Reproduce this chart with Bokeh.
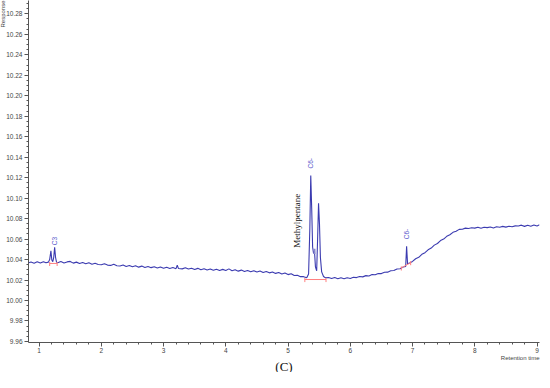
import math
from bokeh.plotting import figure
from bokeh.models import Range1d, SingleIntervalTicker, PrintfTickFormatter, Label, ColumnDataSource, Title
from bokeh.core.properties import value
from bokeh.embed import file_html
from bokeh.resources import INLINE

# Chromatogram trace (retention time, response)
rt = [0.82, 0.87, 0.92, 0.97, 1.02, 1.07, 1.11, 1.15, 1.17, 1.19, 1.205, 1.22, 1.235, 1.25, 1.265, 1.28,
      1.30, 1.35, 1.40, 1.45, 1.50, 1.55, 1.60, 1.65, 1.70, 1.75, 1.80, 1.85, 1.90, 1.95,
      2.00, 2.05, 2.10, 2.15, 2.20, 2.25, 2.30, 2.35, 2.40, 2.45, 2.50, 2.55, 2.60, 2.65, 2.70, 2.75,
      2.80, 2.85, 2.90, 2.95, 3.00, 3.05, 3.10, 3.15, 3.20, 3.22, 3.24, 3.30, 3.35, 3.40, 3.45, 3.50,
      3.55, 3.60, 3.65, 3.70, 3.75, 3.80, 3.85, 3.90, 3.95, 4.00, 4.05, 4.10, 4.15, 4.20, 4.25, 4.30,
      4.35, 4.40, 4.45, 4.50, 4.55, 4.60, 4.65, 4.70, 4.75, 4.80, 4.85, 4.90, 4.95, 5.00, 5.05, 5.10,
      5.15, 5.20, 5.25, 5.30, 5.33, 5.35, 5.365, 5.38, 5.395, 5.41, 5.425, 5.44, 5.46, 5.475, 5.49,
      5.505, 5.52, 5.54, 5.57, 5.60, 5.65, 5.70, 5.75, 5.80, 5.85, 5.90, 5.95, 6.00, 6.05, 6.10, 6.15,
      6.20, 6.25, 6.30, 6.35, 6.40, 6.45, 6.50, 6.55, 6.60, 6.65, 6.70, 6.75, 6.80, 6.85, 6.89, 6.905,
      6.92, 6.95, 7.00, 7.05, 7.10, 7.15, 7.20, 7.25, 7.30, 7.35, 7.40, 7.45, 7.50, 7.55, 7.60, 7.65,
      7.70, 7.75, 7.80, 7.85, 7.90, 7.95, 8.00, 8.05, 8.10, 8.15, 8.20, 8.25, 8.30, 8.35, 8.40, 8.45,
      8.50, 8.55, 8.60, 8.65, 8.70, 8.75, 8.80, 8.85, 8.90, 8.95, 9.00, 9.04]
response = [10.0366, 10.0376, 10.0364, 10.0378, 10.0367, 10.0379, 10.0368, 10.0375, 10.0400, 10.0485, 10.0395, 10.0380, 10.0420, 10.0520, 10.0420, 10.0375,
            10.0369, 10.0380, 10.0366, 10.0377, 10.0382, 10.0365, 10.0375, 10.0362, 10.0372, 10.0359, 10.0369, 10.0355, 10.0364, 10.0352,
            10.0350, 10.0360, 10.0346, 10.0343, 10.0354, 10.0340, 10.0337, 10.0347, 10.0333, 10.0342, 10.0330, 10.0339, 10.0326, 10.0336, 10.0323, 10.0333,
            10.0321, 10.0330, 10.0318, 10.0328, 10.0315, 10.0325, 10.0313, 10.0322, 10.0311, 10.0345, 10.0312, 10.0309, 10.0320, 10.0307, 10.0316, 10.0303,
            10.0314, 10.0301, 10.0311, 10.0298, 10.0308, 10.0296, 10.0306, 10.0294, 10.0304, 10.0293, 10.0309, 10.0291, 10.0301, 10.0287, 10.0297, 10.0284,
            10.0294, 10.0281, 10.0291, 10.0278, 10.0288, 10.0274, 10.0284, 10.0270, 10.0279, 10.0265, 10.0274, 10.0259, 10.0268, 10.0253, 10.0262, 10.0245,
            10.0247, 10.0233, 10.0233, 10.0223, 10.0260, 10.0700, 10.1220, 10.0900, 10.0520, 10.0460, 10.0480, 10.0330, 10.0290, 10.0600, 10.0950,
            10.0750, 10.0420, 10.0280, 10.0235, 10.0223, 10.0225, 10.0215, 10.0224, 10.0213, 10.0222, 10.0212, 10.0223, 10.0215, 10.0227, 10.0224, 10.0234,
            10.0231, 10.0243, 10.0240, 10.0253, 10.0251, 10.0264, 10.0263, 10.0276, 10.0277, 10.0290, 10.0293, 10.0308, 10.0311, 10.0328, 10.0333, 10.0530,
            10.0360, 10.0365, 10.0382, 10.0408, 10.0422, 10.0451, 10.0467, 10.0495, 10.0512, 10.0541, 10.0557, 10.0585, 10.0600, 10.0627, 10.0642, 10.0666,
            10.0677, 10.0695, 10.0696, 10.0707, 10.0704, 10.0710, 10.0707, 10.0716, 10.0705, 10.0716, 10.0712, 10.0718, 10.0709, 10.0720, 10.0716, 10.0724,
            10.0717, 10.0726, 10.0720, 10.0729, 10.0728, 10.0736, 10.0724, 10.0736, 10.0726, 10.0738, 10.0728, 10.0739, 10.0729]

# Integration baselines (red)
base_x0 = [1.17, 5.27, 6.82]
base_y0 = [10.0362, 10.0205, 10.0318]
base_x1 = [1.29, 5.61, 6.97]
base_y1 = [10.0362, 10.0205, 10.0370]

# Peak labels
peak_names = ["C3", "C6-", "C6-"]
peak_rt = [1.24, 5.365, 6.905]
peak_y = [10.058, 10.134, 10.065]

x_start, x_end = 0.83, 9.04
y_start, y_end = 9.959, 10.293

p = figure(width=540, height=372, output_backend="svg", toolbar_location=None,
           x_range=Range1d(x_start, x_end), y_range=Range1d(y_start, y_end),
           min_border_left=0, min_border_right=1, min_border_top=0, min_border_bottom=0)
p.outline_line_color = None
p.grid.visible = False
p.background_fill_color = "white"
p.border_fill_color = "white"

axis_col = "#555555"
for ax in (p.xaxis[0], p.yaxis[0]):
    ax.axis_line_color = axis_col
    ax.major_tick_line_color = axis_col
    ax.minor_tick_line_color = axis_col
    ax.major_tick_out = 4
    ax.major_tick_in = 0
    ax.minor_tick_out = 2
    ax.minor_tick_in = 0
    ax.major_label_text_font = "Liberation Sans"
    ax.major_label_text_font_size = "6.5px"
    ax.major_label_text_color = "#444444"
    ax.major_label_standoff = 2
p.xaxis.major_label_standoff = 1

p.xaxis.ticker = SingleIntervalTicker(interval=1, num_minor_ticks=5)
p.yaxis.ticker = SingleIntervalTicker(interval=0.02, num_minor_ticks=4)
p.yaxis.formatter = PrintfTickFormatter(format="%.2f")

# trace
p.line(rt, response, line_color="#3b3bb0", line_width=1.1)

# baselines
red = "#ff7f7f"
p.segment(x0=base_x0, y0=base_y0, x1=base_x1, y1=base_y1, line_color=red, line_width=1)
tick_x = base_x0 + base_x1
tick_y = base_y0 + base_y1
p.segment(x0=tick_x, y0=[v + 0.0015 for v in tick_y], x1=tick_x, y1=[v - 0.0025 for v in tick_y],
          line_color=red, line_width=1)

# shoulder marker
p.segment(x0=[5.425], y0=[10.0455], x1=[5.425], y1=[10.0505], line_color="#8888cc", line_width=2)

# peak labels
src = ColumnDataSource(dict(x=peak_rt, y=peak_y, t=peak_names))
p.text(x="x", y="y", text="t", source=src, angle=math.pi / 2, text_align="center",
       text_baseline="middle", text_font=value("Liberation Sans"), text_font_size="6.5px",
       text_color="#5a5acc")

p.add_layout(Label(x=5.14, y=10.078, text="Methylpentane", angle=math.pi / 2,
                   text_align="center", text_baseline="middle",
                   text_font="Liberation Serif", text_font_size="9px", text_color="#111111"))

# texts below the axis
p.add_layout(Title(text="Retention time", align="right", text_font="Liberation Sans",
                   text_font_size="6px", text_font_style="normal", text_color="#444444",
                   standoff=-6), "below")
p.add_layout(Title(text="(C)", align="center", text_font="Liberation Serif",
                   text_font_size="13px", text_font_style="normal", text_color="#111111",
                   standoff=-2), "below")

# axis title at top-left
p.add_layout(Title(text="Response", align="right", text_font="Liberation Sans",
                   text_font_size="6px", text_font_style="normal", text_color="#444444",
                   standoff=-5), "left")

open("out.html", "w").write(file_html(p, INLINE))
